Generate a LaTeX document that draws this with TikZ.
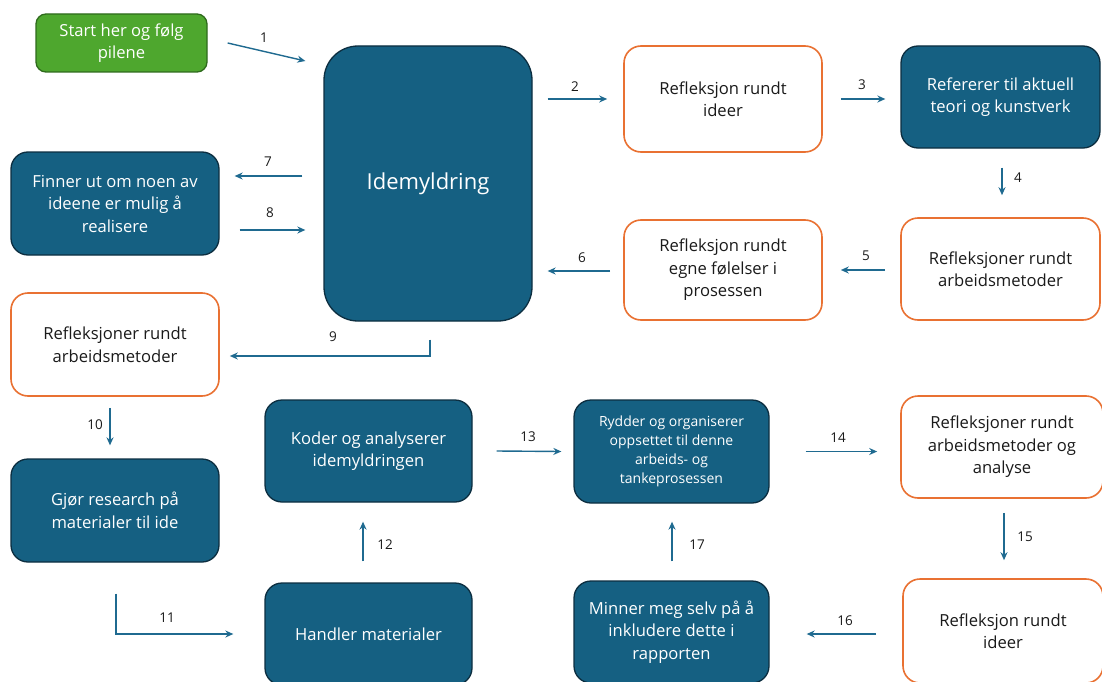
\documentclass[tikz,border=0pt]{standalone}
\usepackage{fontspec}
\setmainfont{Open Sans}
\usetikzlibrary{calc,arrows.meta}
\definecolor{dblue}{HTML}{156082}
\definecolor{dedge}{HTML}{0C2E40}
\definecolor{orng}{HTML}{E97132}
\definecolor{grn}{HTML}{4EA72E}
\definecolor{gedge}{HTML}{2E6A1C}
\definecolor{arrc}{HTML}{1F6A90}
\definecolor{txt}{HTML}{1A1A1A}
\tikzset{
  base/.style={rounded corners=17pt, align=center, inner sep=2pt, font=\fontsize{16.6}{22.5}\selectfont},
  dbox/.style={base, fill=dblue, draw=dedge, line width=1.3pt, text=white},
  obox/.style={base, fill=white, draw=orng, line width=1.6pt, text=txt},
  gbox/.style={base, fill=grn, draw=gedge, line width=1.3pt, text=white},
  arr/.style={draw=arrc, line width=1.4pt, -{Stealth[length=8pt,width=7pt]}},
  lab/.style={font=\fontsize{13.5}{15}\selectfont, text=txt, inner sep=0pt}
}
\begin{document}
\begin{tikzpicture}[x=1pt,y=-1pt]
\useasboundingbox (0,0) rectangle (1102,682);
\begin{scope}
\clip (0,0) rectangle (1102,682);
\node[gbox, minimum width=171pt, minimum height=58pt, rounded corners=10pt] (start) at (121.5,43) {Start her og følg\\pilene};
\node[dbox, minimum width=208pt, minimum height=275pt, rounded corners=34pt, font=\fontsize{22}{26}\selectfont] (idem) at (428,183.5) {Idemyldring};
\node[obox, minimum width=198pt, minimum height=106pt] (ri1) at (723,99) {Refleksjon rundt\\ideer};
\node[dbox, minimum width=199pt, minimum height=102pt] (ref) at (1000.5,97) {Refererer til aktuell\\teori og kunstverk};
\node[dbox, minimum width=208pt, minimum height=103pt] (finn) at (115,203.5) {Finner ut om noen av\\ideene er mulig å\\realisere};
\node[obox, minimum width=198pt, minimum height=100pt] (fol) at (723,270) {Refleksjon rundt\\egne følelser i\\prosessen};
\node[obox, minimum width=199pt, minimum height=102pt] (arb1) at (1000.5,269) {Refleksjoner rundt\\arbeidsmetoder};
\node[obox, minimum width=208pt, minimum height=103pt] (arb2) at (115,344.5) {Refleksjoner rundt\\arbeidsmetoder};
\node[dbox, minimum width=207pt, minimum height=102pt] (koder) at (368.5,451) {Koder og analyserer\\idemyldringen};
\node[dbox, minimum width=195pt, minimum height=103pt, font=\fontsize{14}{19}\selectfont] (rydd) at (671.5,451.5) {Rydder og organiserer\\oppsettet til denne\\arbeids- og\\tankeprosessen};
\node[obox, minimum width=202pt, minimum height=102pt] (ana) at (1002,447) {Refleksjoner rundt\\arbeidsmetoder og\\analyse};
\node[dbox, minimum width=208pt, minimum height=103pt] (gjor) at (115,510.5) {Gjør research på\\materialer til ide};
\node[dbox, minimum width=207pt, minimum height=102pt] (handl) at (368.5,634) {Handler materialer};
\node[dbox, minimum width=195pt, minimum height=102pt] (minn) at (671.5,632) {Minner meg selv på å\\inkludere dette i\\rapporten};
\node[obox, minimum width=200pt, minimum height=104pt] (ri2) at (1003,631) {Refleksjon rundt\\ideer};
\end{scope}

\draw[arr] ($(start.east)+(20,0)$) -- ($(idem.west)+(-18,-122.5)$);
\draw[arr] ($(idem.east|-ri1.west)+(15,0)$) -- ($(ri1.west)+(-16,0)$);
\draw[arr] ($(ri1.east)+(18,0)$) -- ($(ref.west|-ri1.east)+(-15,0)$);
\draw[arr] ($(ref.south)+(1.5,19)$) -- ($(arb1.north)+(1.5,-22)$);
\draw[arr] ($(arb1.west)+(-15,1)$) -- ($(fol.east)+(18,0)$);
\draw[arr] ($(fol.west)+(-13,1)$) -- ($(idem.east|-fol.west)+(15,1)$);
\draw[arr] ($(idem.west)+(-21,-7.5)$) -- ($(finn.east)+(15,-27.5)$);
\draw[arr] ($(finn.east)+(20,26.5)$) -- ($(idem.west)+(-18,46.5)$);
\draw[arr] ($(idem.south)+(2,18)$) |- ($(arb2.east)+(10,11.5)$);
\draw[arr] ($(arb2.south)+(-5,11)$) -- ($(gjor.north)+(-5,-13)$);
\draw[arr] ($(gjor.south)+(1,31)$) |- ($(handl.west)+(-31,0)$);
\draw[arr] ($(handl.north)+(-5.5,-21)$) -- ($(koder.south)+(-5.5,19)$);
\draw[arr] ($(koder.east)+(24,0)$) -- ($(rydd.west)+(-12,0)$);
\draw[arr] ($(rydd.east)+(36,0)$) -- ($(ana.west|-rydd.east)+(-23,0)$);
\draw[arr] ($(ana.south)+(2,14)$) -- ($(ri2.north)+(1,-18)$);
\draw[arr] ($(ri2.west)+(-26,3)$) -- ($(minn.east)+(37,2)$);
\draw[arr] ($(minn.north)+(0.5,-19)$) -- ($(rydd.south)+(0.5,18)$);

\node[lab] (l1) at (264,38) {1};
\node[lab] (l2) at (575,87) {2};
\node[lab] (l3) at (862,85) {3};
\node[lab] (l4) at (1018,178) {4};
\node[lab] (l5) at (866,256) {5};
\node[lab] (l6) at (582,258) {6};
\node[lab] (l7) at (268,162) {7};
\node[lab] (l8) at (270,213) {8};
\node[lab] (l9) at (333,337) {9};
\node[lab] (l10) at (95,425) {10};
\node[lab] (l11) at (167,618) {11};
\node[lab] (l12) at (385,545) {12};
\node[lab] (l13) at (528,437) {13};
\node[lab] (l14) at (838,438) {14};
\node[lab] (l15) at (1025,537) {15};
\node[lab] (l16) at (845,621) {16};
\node[lab] (l17) at (697,545) {17};
\end{tikzpicture}
\end{document}
